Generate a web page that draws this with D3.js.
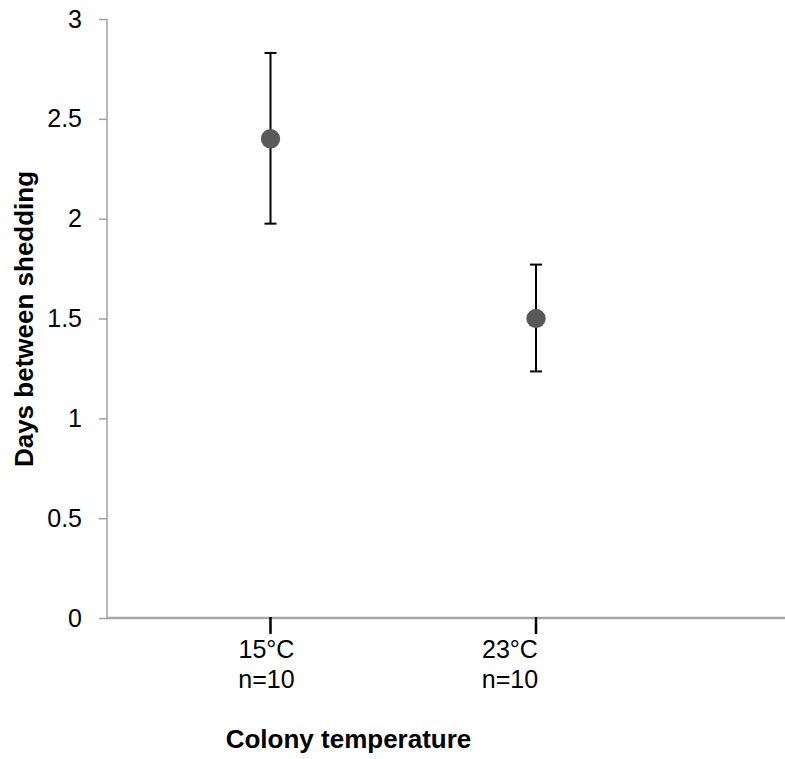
<!DOCTYPE html>
<html>
<head>
<meta charset="utf-8">
<script src="https://cdn.jsdelivr.net/npm/d3@7"></script>
<style>
    body { margin: 0; background: #fff; }
    svg { display: block; font-family: 'Liberation Sans', Arial, sans-serif; }
</style>
</head>
<body>
<svg id="chart" width="785" height="759"></svg>
<script>
// Shedding interval by colony temperature (mean and error bars)
const categories = ['15°C', '23°C'];
const sampleSizes = ['n=10', 'n=10'];
const meanDays = [2.4, 1.5];
const errUpper = [2.83, 1.77];
const errLower = [1.975, 1.235];
const yTicks = [0, 0.5, 1, 1.5, 2, 2.5, 3];

const svg = d3.select('#chart');

const xScale = d3.scaleLinear().domain([1, 2]).range([270.5, 536]);
const yScale = d3.scaleLinear().domain([0, 3]).range([618, 19]);
const axisLeftX = 107;
const axisRightX = 785;
const labelShift = [-4, -26];

// Y axis
const yAxis = d3.axisLeft(yScale).tickValues(yTicks).
    tickSize(8).
    tickPadding(17).
    tickFormat(d => String(d));
const gy = svg.append('g').
    attr('transform', `translate(${axisLeftX},0)`).
    call(yAxis);
gy.select('.domain').remove();
gy.selectAll('.tick line').attr('stroke', '#a0a0a0').attr('stroke-width', 1.5);
gy.selectAll('.tick text').attr('font-size', 25).attr('fill', '#000').
    attr('font-family', "'Liberation Sans', Arial, sans-serif");
svg.append('line').
    attr('x1', axisLeftX).attr('x2', axisLeftX).
    attr('y1', yScale(3)).attr('y2', yScale(0)).
    attr('stroke', '#a0a0a0').attr('stroke-width', 1.5);

// X axis line and category ticks
svg.append('line').
    attr('x1', axisLeftX - 0.75).attr('x2', axisRightX).
    attr('y1', yScale(0)).attr('y2', yScale(0)).
    attr('stroke', '#a6a6a6').attr('stroke-width', 2.7);

svg.selectAll('.xtick').
    data(categories).
    enter().
    append('line').
    attr('class', 'xtick').
    attr('x1', (d, i) => xScale(i + 1)).
    attr('x2', (d, i) => xScale(i + 1)).
    attr('y1', yScale(0) - 1).
    attr('y2', yScale(0) + 16).
    attr('stroke', '#000').
    attr('stroke-width', 2.5);

const catLabels = svg.selectAll('.xlabel').
    data(categories).
    enter().
    append('text').
    attr('class', 'xlabel').
    attr('text-anchor', 'middle').
    attr('font-size', 25).
    attr('x', (d, i) => xScale(i + 1) + labelShift[i]).
    attr('y', 658);
catLabels.append('tspan').text(d => d);
catLabels.append('tspan').
    attr('x', (d, i) => xScale(i + 1) + labelShift[i]).
    attr('dy', 30).
    text((d, i) => sampleSizes[i]);

// Error bars
const bars = svg.selectAll('.errbar').
    data(meanDays).
    enter().
    append('g').
    attr('class', 'errbar').
    attr('stroke', '#000').
    attr('stroke-width', 2);
bars.append('line').
    attr('x1', (d, i) => xScale(i + 1)).
    attr('x2', (d, i) => xScale(i + 1)).
    attr('y1', (d, i) => yScale(errUpper[i])).
    attr('y2', (d, i) => yScale(errLower[i]));
bars.append('line').
    attr('x1', (d, i) => xScale(i + 1) - 6).
    attr('x2', (d, i) => xScale(i + 1) + 6).
    attr('y1', (d, i) => yScale(errUpper[i])).
    attr('y2', (d, i) => yScale(errUpper[i]));
bars.append('line').
    attr('x1', (d, i) => xScale(i + 1) - 6).
    attr('x2', (d, i) => xScale(i + 1) + 6).
    attr('y1', (d, i) => yScale(errLower[i])).
    attr('y2', (d, i) => yScale(errLower[i]));

// Mean markers
svg.selectAll('.mean').
    data(meanDays).
    enter().
    append('circle').
    attr('class', 'mean').
    attr('cx', (d, i) => xScale(i + 1)).
    attr('cy', d => yScale(d)).
    attr('r', 9.7).
    attr('fill', '#595959');

// Axis titles
svg.append('text').
    attr('x', 348.5).
    attr('y', 748).
    attr('text-anchor', 'middle').
    attr('font-size', 26).
    attr('font-weight', 'bold').
    text('Colony temperature');

svg.append('text').
    attr('transform', 'translate(33,319) rotate(-90)').
    attr('text-anchor', 'middle').
    attr('font-size', 26).
    attr('font-weight', 'bold').
    text('Days between shedding');
</script>
</body>
</html>
